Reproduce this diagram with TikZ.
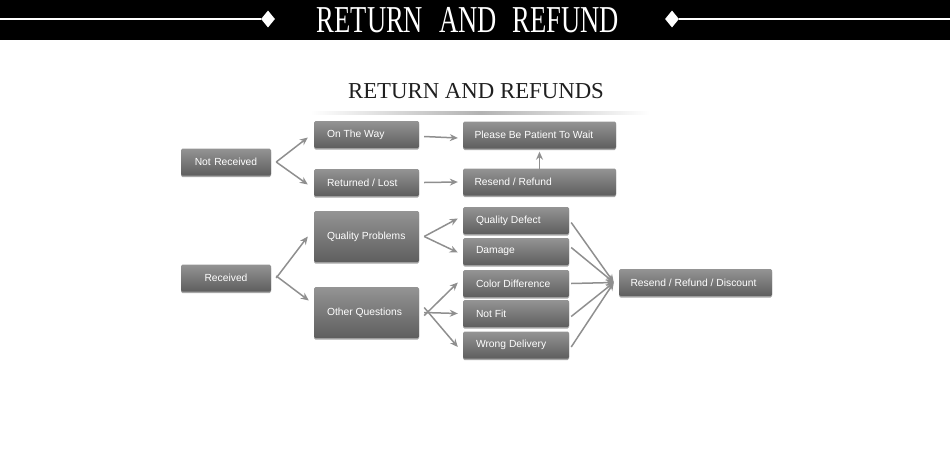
\documentclass[tikz,border=0pt]{standalone}
\usepackage{fontspec}
\setmainfont{Liberation Serif}
\newfontfamily\boxfont{Liberation Sans}
\newfontfamily\condfont[FakeStretch=0.7]{Liberation Serif}
\usepackage{tikz}
\usetikzlibrary{positioning,arrows.meta,shapes.geometric,shadows}

\begin{document}
\begin{tikzpicture}[
  x=1pt, y=-1pt,
  box/.style={rounded corners=1.5pt, top color=black!42, bottom color=black!63,
    text=white, font=\boxfont\fontsize{10.3}{12}\selectfont, inner xsep=13pt, inner ysep=0pt,
    align=flush left, minimum height=27pt,
    drop shadow={shadow xshift=0pt, shadow yshift=-1.5pt, opacity=0.35, fill=black}},
  wide/.style={box, inner xsep=11.5pt, text width=130pt},
  mid/.style={box, text width=79pt},
  small/.style={box, text width=80pt},
  start/.style={box, text width=64pt, align=center},
  tall/.style={minimum height=51pt},
  gem/.style={draw=none, fill=white, diamond, inner sep=0pt, minimum width=14pt, minimum height=17pt},
  arr/.style={draw=black!44, line width=1.5pt, -{Stealth[length=8pt,width=7pt]}}]
  \useasboundingbox (0,0) rectangle (950,453);
  % top banner
  \fill[black] (0,0) rectangle (950,40);
  \node[text=white, font=\condfont\fontsize{38}{40}\selectfont, inner sep=0pt] (banner) at (468,20)
    {RETURN\hspace{16pt}AND\hspace{16pt}REFUND};
  \node[gem] (gl) at (268,19) {};
  \node[gem] (gr) at (672,19) {};
  \coordinate (ll) at (0,19);
  \coordinate (rr) at (950,19);
  \draw[white, line width=2pt] (ll) -- (gl);
  \draw[white, line width=2pt] (gr) -- (rr);
  % heading
  \node[text=black!88, font=\fontsize{22.8}{24}\selectfont, inner sep=0pt] (head) at (476,91) {RETURN AND REFUNDS};
  \shade[left color=white, right color=white, middle color=black!30] (310,111) rectangle (650,114);
  % not received
  \node[start] (nrec) at (226,162) {Not Received};
  \node[mid] (way) at (366.5,134.5) {On The Way};
  \node[mid] (lost) at (366.5,182.5) {Returned / Lost};
  \node[wide] (wait) at (539.5,135) {Please Be Patient To Wait};
  \node[wide] (resend) at (539.5,182) {Resend / Refund};
  % received
  \node[start] (rec) at (226,278) {Received};
  \node[mid, tall] (qual) at (366.5,236.5) {Quality Problems};
  \node[mid, tall] (other) at (366.5,312.5) {Other Questions};
  \node[small] (defect) at (516,220.5) {Quality Defect};
  \node[small] (damage) at (516,251.5) {Damage};
  \node[small] (color) at (516,283.5) {Color Difference};
  \node[small] (fit) at (516,313.5) {Not Fit};
  \node[small] (wrong) at (516,345) {Wrong Delivery};
  \node[wide] (final) at (695.5,282.5) {Resend / Refund / Discount};
  \coordinate (hub) at ([xshift=-5pt]final.west);
  % arrows
  \draw[arr] ([xshift=5pt]nrec.east) -- ([xshift=-6pt,yshift=-3pt]way.west);
  \draw[arr] ([xshift=5pt]nrec.east) -- ([xshift=-6pt,yshift=-2pt]lost.west);
  \draw[arr] ([xshift=5pt,yshift=-2pt]way.east) -- ([xshift=-5pt,yshift=-3pt]wait.west);
  \draw[arr] ([xshift=5pt]lost.east) -- ([xshift=-5pt]resend.west);
  \draw[arr] ([yshift=-3pt]resend.north) -- ([yshift=-3pt]wait.south);
  \draw[arr] ([xshift=5pt]rec.east) -- ([xshift=-6pt]qual.west);
  \draw[arr] ([xshift=5pt,yshift=2pt]rec.east) -- ([xshift=-5pt,yshift=12pt]other.west);
  \draw[arr] ([xshift=5pt]qual.east) -- ([xshift=-5pt,yshift=2pt]defect.west);
  \draw[arr] ([xshift=5pt]qual.east) -- ([xshift=-5pt,yshift=-1pt]damage.west);
  \draw[arr] ([xshift=5pt,yshift=-3pt]other.east) -- ([xshift=-5pt,yshift=1pt]color.west);
  \draw[arr] ([xshift=5pt]other.east) -- ([xshift=-5pt]fit.west);
  \draw[arr] ([xshift=5pt,yshift=5pt]other.east) -- ([xshift=-5pt,yshift=-2pt]wrong.west);
  \draw[arr] ([xshift=2pt,yshift=-2pt]defect.east) -- (hub);
  \draw[arr] ([xshift=2pt,yshift=4pt]damage.east) -- (hub);
  \draw[arr] ([xshift=2pt]color.east) -- (hub);
  \draw[arr] ([xshift=2pt,yshift=-3pt]fit.east) -- (hub);
  \draw[arr] ([xshift=2pt,yshift=-2pt]wrong.east) -- (hub);
\end{tikzpicture}
\end{document}
